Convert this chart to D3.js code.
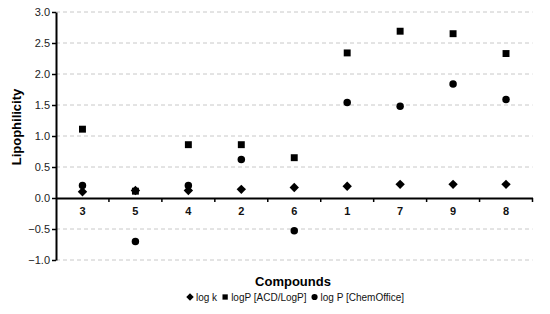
<!DOCTYPE html>
<html><head><meta charset="utf-8">
<script src="https://cdn.jsdelivr.net/npm/d3@7"></script>
<style>body{margin:0;background:#fff}svg{display:block;font-family:"Liberation Sans",Arial,sans-serif}</style>
</head><body><svg id="c" width="550" height="314"></svg>
<script>
const categories = ["3","5","4","2","6","1","7","9","8"];
const logK = [0.10,0.12,0.12,0.14,0.17,0.19,0.22,0.22,0.22];
const logPACD = [1.11,0.11,0.86,0.86,0.65,2.34,2.69,2.65,2.33];
const logPChem = [0.20,-0.70,0.20,0.62,-0.53,1.54,1.48,1.84,1.59];
const yTicks = [-1.0,-0.5,0.0,0.5,1.0,1.5,2.0,2.5,3.0];
const seriesNames = ["log k","logP [ACD/LogP]","log P [ChemOffice]"];

const svg = d3.select("#c");
const x = d3.scaleBand().domain(categories).range([56,532.5]);
const y = d3.scaleLinear().domain([-1,3]).range([260,12]);

// gridlines
svg.append("g").selectAll("line").data(yTicks.filter(d=>d!==0)).join("line")
  .attr("x1",56).attr("x2",532.5).attr("y1",d=>y(d)).attr("y2",d=>y(d))
  .attr("stroke","#c8c8c8").attr("stroke-dasharray","4,3").attr("stroke-width",1);

// y axis
const ya = svg.append("g").attr("transform","translate(56,0)")
  .call(d3.axisLeft(y).tickValues(yTicks).tickFormat(d3.format(".1f")).tickSize(4).tickSizeOuter(0));
ya.select(".domain").attr("stroke","#000").attr("stroke-width",2);
ya.selectAll(".tick line").attr("stroke","#000").attr("stroke-width",1.5);
ya.selectAll(".tick text").attr("font-size","11px").attr("fill","#222").attr("x",-6);

// x axis at 0
const xa = svg.append("g").attr("transform",`translate(0,${y(0)})`)
  .call(d3.axisBottom(x).tickSize(0).tickSizeOuter(0));
xa.select(".domain").attr("stroke","#000").attr("stroke-width",2);
xa.selectAll(".tick text").attr("font-size","11px").attr("font-weight","bold").attr("fill","#111").attr("dy","1.25em");
// boundary ticks
const bounds = categories.slice(1).map(c=>x(c)).concat([x.range()[1]]);
svg.append("g").selectAll("line").data(bounds).join("line")
  .attr("x1",d=>d).attr("x2",d=>d).attr("y1",y(0)).attr("y2",y(0)+4)
  .attr("stroke","#000").attr("stroke-width",1.5);

const cx = c => x(c)+x.bandwidth()/2;
const sym = [d3.symbolSquare, d3.symbolSquare, d3.symbolCircle];
const rot = [45, 0, 0];
const sizes = [44, 48, 44];
[logK, logPACD, logPChem].forEach((arr,i)=>{
  svg.append("g").selectAll("path").data(arr).join("path")
    .attr("transform",(d,j)=>`translate(${cx(categories[j])},${y(d)}) rotate(${rot[i]})`)
    .attr("d",d3.symbol().type(sym[i]).size(sizes[i])).attr("fill","#000");
});

// axis titles
svg.append("text").attr("transform","translate(21,127) rotate(-90)").attr("text-anchor","middle")
  .attr("font-size","13px").attr("font-weight","bold").text("Lipophilicity");
svg.append("text").attr("x",293).attr("y",286).attr("text-anchor","middle")
  .attr("font-size","13px").attr("font-weight","bold").text("Compounds");

// legend
const lg = svg.append("g").attr("font-size","10px");
let lx = 186;
seriesNames.forEach((n,i)=>{
  lg.append("path").attr("transform",`translate(${lx+4},297) rotate(${rot[i]})`).attr("d",d3.symbol().type(sym[i]).size(i==2?30:28)).attr("fill","#000");
  const t = lg.append("text").attr("x",lx+10).attr("y",300.5).attr("fill","#111").text(n);
  lx += 10 + t.node().getComputedTextLength() + 4;
});
</script></body></html>
